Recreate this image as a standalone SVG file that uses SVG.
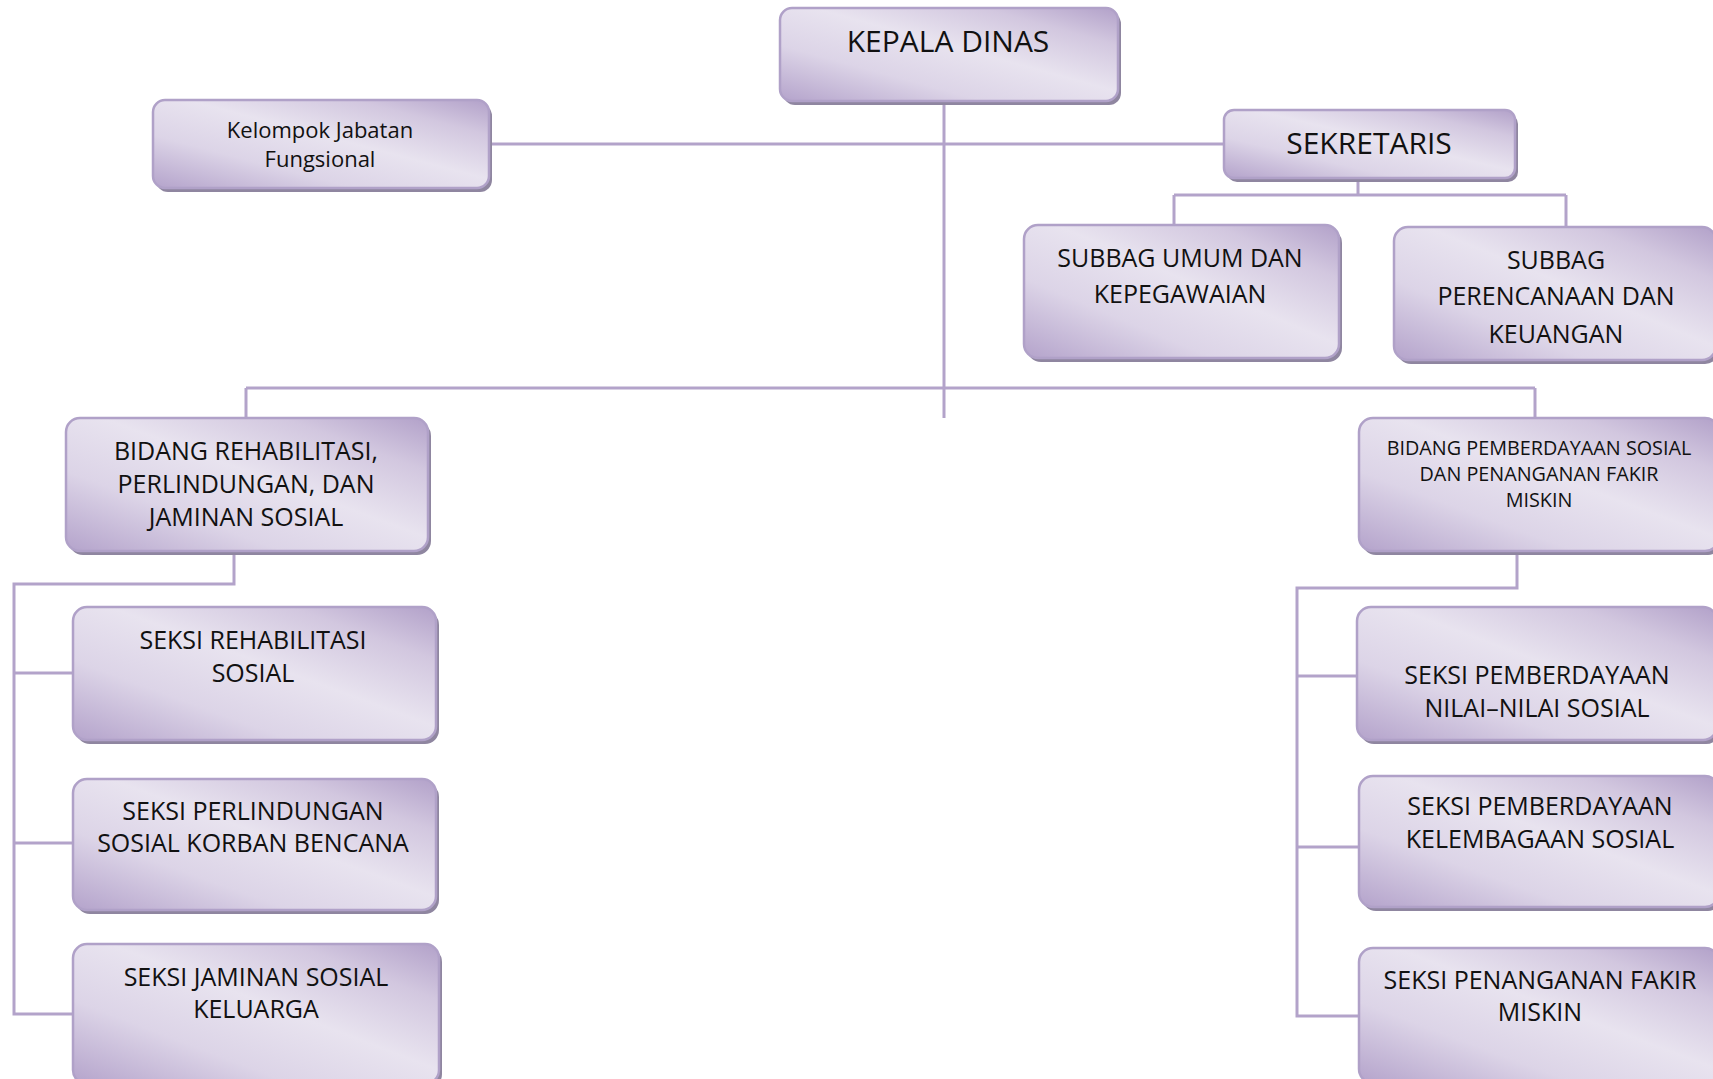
<svg xmlns="http://www.w3.org/2000/svg" width="1713" height="1079" viewBox="0 0 1713 1079">
<defs>
<linearGradient id="g" x1="0" y1="1" x2="1" y2="0">
<stop offset="0" stop-color="#b4a3cb"/>
<stop offset="0.3" stop-color="#dcd4e7"/>
<stop offset="0.55" stop-color="#e8e3ef"/>
<stop offset="0.8" stop-color="#d2c7df"/>
<stop offset="1" stop-color="#b2a1c9"/>
</linearGradient>
<style>
.box{fill:url(#g);stroke:#b0a1c8;stroke-width:2.5}
.sh{fill:#8f86a0}
.c{fill:none;stroke:#b3a3ca;stroke-width:3}
text{font-family:"Open Sans","Noto Sans","DejaVu Sans",sans-serif;fill:#111;text-anchor:middle}
.t30{font-size:30px}
.t25{font-size:25px}
.t22{font-size:22px}
.t20{font-size:19.8px}
</style>
</defs>
<rect width="1713" height="1079" fill="#fff"/>
<g id="connectors">
<path class="c" d="M944 103V418"/>
<path class="c" d="M489 144H1224"/>
<path class="c" d="M246 388H1535M246 388V418M1535 388V418"/>
<path class="c" d="M1358 181V195M1174 195H1566M1174 195V225M1566 195V227"/>
<path class="c" d="M234 554V584H14V1014H73M14 673H73M14 843H73"/>
<path class="c" d="M1517 554V588H1297V1016H1359M1297 676H1357M1297 847H1359"/>
</g>
<g id="kepala">
<rect class="sh" x="783" y="12" width="338" height="93" rx="12"/>
<rect class="box" x="780" y="8" width="338" height="93" rx="12"/>
<text class="t30" x="948" y="52">KEPALA DINAS</text>
</g>
<g id="kelompok">
<rect class="sh" x="156" y="104" width="336" height="88" rx="12"/>
<rect class="box" x="153" y="100" width="336" height="88" rx="12"/>
<text class="t22" x="320" y="138">Kelompok Jabatan</text>
<text class="t22" x="320" y="167">Fungsional</text>
</g>
<g id="sekretaris">
<rect class="sh" x="1227" y="114" width="291" height="68" rx="10"/>
<rect class="box" x="1224" y="110" width="291" height="68" rx="10"/>
<text class="t30" x="1369" y="154">SEKRETARIS</text>
</g>
<g id="subbag-umum">
<rect class="sh" x="1027" y="229" width="315" height="133" rx="14"/>
<rect class="box" x="1024" y="225" width="315" height="133" rx="14"/>
<text class="t25" x="1180" y="267">SUBBAG UMUM DAN</text>
<text class="t25" x="1180" y="303">KEPEGAWAIAN</text>
</g>
<g id="subbag-perencanaan">
<rect class="sh" x="1397" y="231" width="322" height="133" rx="14"/>
<rect class="box" x="1394" y="227" width="322" height="133" rx="14"/>
<text class="t25" x="1556" y="269">SUBBAG</text>
<text class="t25" x="1556" y="305">PERENCANAAN DAN</text>
<text class="t25" x="1556" y="343">KEUANGAN</text>
</g>
<g id="bidang-rehab">
<rect class="sh" x="69" y="422" width="362" height="133" rx="14"/>
<rect class="box" x="66" y="418" width="362" height="133" rx="14"/>
<text class="t25" x="246" y="460">BIDANG REHABILITASI,</text>
<text class="t25" x="246" y="493">PERLINDUNGAN, DAN</text>
<text class="t25" x="246" y="526">JAMINAN SOSIAL</text>
</g>
<g id="bidang-pemberdayaan">
<rect class="sh" x="1362" y="422" width="360" height="133" rx="14"/>
<rect class="box" x="1359" y="418" width="360" height="133" rx="14"/>
<text class="t20" x="1539" y="455">BIDANG PEMBERDAYAAN SOSIAL</text>
<text class="t20" x="1539" y="481">DAN PENANGANAN FAKIR</text>
<text class="t20" x="1539" y="507">MISKIN</text>
</g>
<g id="seksi-rehab">
<rect class="sh" x="76" y="611" width="363" height="133" rx="14"/>
<rect class="box" x="73" y="607" width="363" height="133" rx="14"/>
<text class="t25" x="253" y="649">SEKSI REHABILITASI</text>
<text class="t25" x="253" y="682">SOSIAL</text>
</g>
<g id="seksi-perlindungan">
<rect class="sh" x="76" y="783" width="363" height="131" rx="14"/>
<rect class="box" x="73" y="779" width="363" height="131" rx="14"/>
<text class="t25" x="253" y="820">SEKSI PERLINDUNGAN</text>
<text class="t25" x="253" y="852">SOSIAL KORBAN BENCANA</text>
</g>
<g id="seksi-jaminan">
<rect class="sh" x="76" y="948" width="366" height="140" rx="14"/>
<rect class="box" x="73" y="944" width="366" height="140" rx="14"/>
<text class="t25" x="256" y="986">SEKSI JAMINAN SOSIAL</text>
<text class="t25" x="256" y="1018">KELUARGA</text>
</g>
<g id="seksi-nilai">
<rect class="sh" x="1360" y="611" width="360" height="133" rx="14"/>
<rect class="box" x="1357" y="607" width="360" height="133" rx="14"/>
<text class="t25" x="1537" y="684">SEKSI PEMBERDAYAAN</text>
<text class="t25" x="1537" y="717">NILAI–NILAI SOSIAL</text>
</g>
<g id="seksi-kelembagaan">
<rect class="sh" x="1362" y="780" width="360" height="131" rx="14"/>
<rect class="box" x="1359" y="776" width="360" height="131" rx="14"/>
<text class="t25" x="1540" y="815">SEKSI PEMBERDAYAAN</text>
<text class="t25" x="1540" y="848">KELEMBAGAAN SOSIAL</text>
</g>
<g id="seksi-penanganan">
<rect class="sh" x="1362" y="952" width="360" height="135" rx="14"/>
<rect class="box" x="1359" y="948" width="360" height="135" rx="14"/>
<text class="t25" x="1540" y="989">SEKSI PENANGANAN FAKIR</text>
<text class="t25" x="1540" y="1021">MISKIN</text>
</g>
</svg>
